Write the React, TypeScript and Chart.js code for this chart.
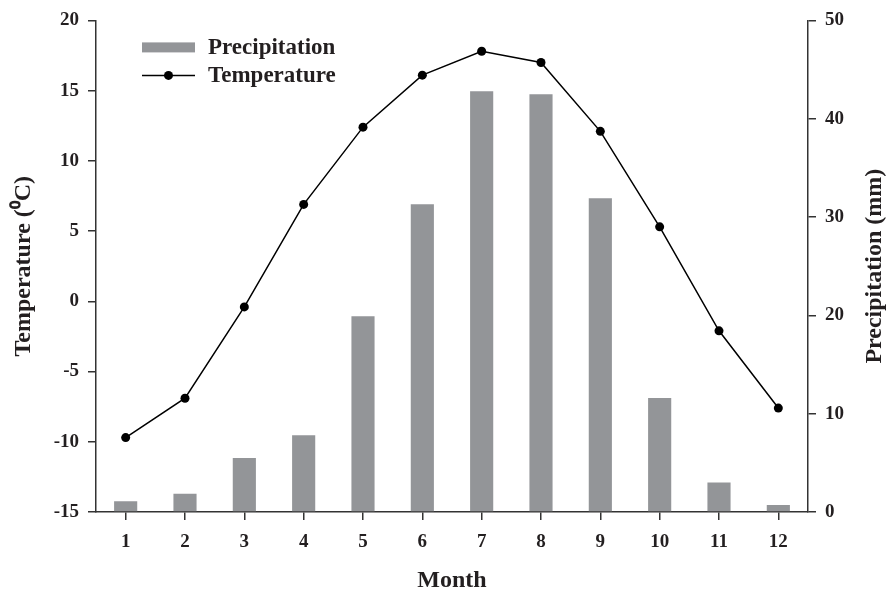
import React, { useEffect, useRef } from 'react';
import { Chart, registerables } from 'chart.js';

Chart.register(...registerables);

const months = ['1', '2', '3', '4', '5', '6', '7', '8', '9', '10', '11', '12'];
const precipitation = [1.1, 1.85, 5.5, 7.8, 19.9, 31.3, 42.8, 42.5, 31.9, 11.6, 3.0, 0.7];
const temperature = [-9.7, -6.9, -0.4, 6.9, 12.4, 16.1, 17.8, 17.0, 12.1, 5.3, -2.1, -7.6];
const tempRange = { min: -15, max: 20, step: 5 };
const precipRange = { min: 0, max: 50, step: 10 };

const FONT = "'Liberation Serif', 'Times New Roman', serif";
const TEXT = '#231f20';
const AXIS = '#333333';
const BAR = '#939598';

const customPlugin = {
  id: 'customDecor',
  afterDraw(chart: any) {
    const { ctx, chartArea } = chart;
    const { left, top, bottom } = chartArea;
    ctx.save();
    // Legend
    const lx = left + 46;
    const lw = 53;
    ctx.fillStyle = BAR;
    ctx.fillRect(lx, top + 22, lw, 10);
    ctx.strokeStyle = '#000';
    ctx.lineWidth = 1.5;
    ctx.beginPath();
    ctx.moveTo(lx, top + 55);
    ctx.lineTo(lx + lw, top + 55);
    ctx.stroke();
    ctx.fillStyle = '#000';
    ctx.beginPath();
    ctx.arc(lx + lw / 2, top + 55, 4.5, 0, Math.PI * 2);
    ctx.fill();
    ctx.fillStyle = TEXT;
    ctx.font = `bold 23px ${FONT}`;
    ctx.textAlign = 'left';
    ctx.textBaseline = 'alphabetic';
    ctx.fillText('Precipitation', lx + lw + 13, top + 34);
    ctx.fillText('Temperature', lx + lw + 13, top + 62);
    // Right axis title (reads bottom to top)
    ctx.translate(chart.width - 16, (top + bottom) / 2);
    ctx.rotate(-Math.PI / 2);
    ctx.font = `bold 24px ${FONT}`;
    ctx.textAlign = 'center';
    ctx.textBaseline = 'middle';
    ctx.fillText('Precipitation (mm)', 0, 0);
    ctx.restore();
  },
};

export default function App() {
  const ref = useRef<HTMLCanvasElement | null>(null);

  useEffect(() => {
    if (!ref.current) return;
    const tickFont = { family: FONT, size: 19, weight: 'bold' as const };
    const chart = new Chart(ref.current, {
      type: 'bar',
      data: {
        labels: months,
        datasets: [
          {
            type: 'line',
            label: 'Temperature',
            data: temperature,
            yAxisID: 'y',
            borderColor: '#000',
            backgroundColor: '#000',
            borderWidth: 1.5,
            pointRadius: 4.5,
            pointBackgroundColor: '#000',
            pointBorderWidth: 0,
            tension: 0,
            order: 0,
          } as any,
          {
            type: 'bar',
            label: 'Precipitation',
            data: precipitation,
            yAxisID: 'y1',
            backgroundColor: BAR,
            borderWidth: 0,
            categoryPercentage: 1,
            barPercentage: 0.39,
            order: 1,
          } as any,
        ],
      },
      options: {
        responsive: false,
        animation: false,
        devicePixelRatio: 1,
        layout: { padding: { top: 18, left: 0, right: 0, bottom: 0 } },
        plugins: {
          legend: { display: false },
          tooltip: { enabled: false },
        },
        scales: {
          x: {
            offset: true,
            grid: {
              offset: false,
              drawOnChartArea: false,
              drawTicks: true,
              tickLength: 8,
              color: AXIS,
              lineWidth: 1.5,
            },
            border: { display: true, color: AXIS, width: 1.5 },
            ticks: { font: tickFont, color: TEXT, padding: 11, maxRotation: 0 },
            title: {
              display: true,
              text: 'Month',
              color: TEXT,
              font: { family: FONT, size: 24, weight: 'bold', lineHeight: 0.8 },
              padding: { top: 0, bottom: 0 },
            },
            afterFit: (s: any) => {
              s.height = 78;
            },
          },
          y: {
            position: 'left',
            min: tempRange.min,
            max: tempRange.max,
            ticks: { stepSize: tempRange.step, font: tickFont, color: TEXT, padding: 9 },
            grid: {
              drawOnChartArea: false,
              drawTicks: true,
              tickLength: 8,
              color: AXIS,
              lineWidth: 1.5,
            },
            border: { display: true, color: AXIS, width: 1.5 },
            title: {
              display: true,
              text: 'Temperature (\u2070C)',
              color: TEXT,
              font: { family: FONT, size: 24, weight: 'bold' },
              padding: { top: 9, bottom: 0 },
            },
            afterFit: (s: any) => {
              s.width = 96;
            },
          },
          y1: {
            position: 'right',
            min: precipRange.min,
            max: precipRange.max,
            ticks: { stepSize: precipRange.step, font: tickFont, color: TEXT, padding: 9 },
            grid: {
              drawOnChartArea: false,
              drawTicks: true,
              tickLength: 8,
              color: AXIS,
              lineWidth: 1.5,
            },
            border: { display: true, color: AXIS, width: 1.5 },
            afterFit: (s: any) => {
              s.width = 83;
            },
          },
        },
      },
      plugins: [customPlugin],
    });
    return () => chart.destroy();
  }, []);

  return (
    <div style={{ position: 'absolute', left: 0, top: 0, width: 891, height: 590, background: '#fff' }}>
      <canvas ref={ref} width={891} height={590} style={{ display: 'block' }} />
    </div>
  );
}
